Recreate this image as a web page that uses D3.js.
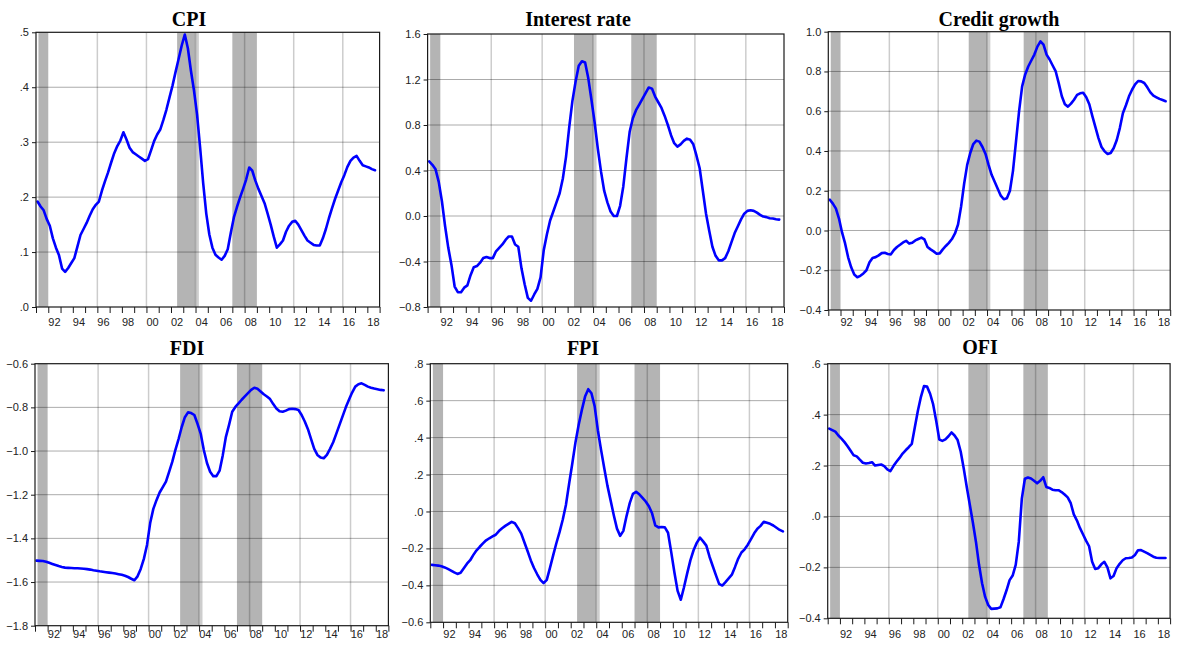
<!DOCTYPE html>
<html>
<head>
<meta charset="utf-8">
<script src="https://cdn.jsdelivr.net/npm/d3@7/dist/d3.min.js"></script>
<style>
  html, body { margin: 0; padding: 0; background: #fff; }
  svg { display: block; }
  .tick-label { font-family: "Liberation Sans", Arial, sans-serif; font-size: 11px; fill: #222; }
  .panel-title { font-family: "Liberation Serif", "Times New Roman", serif; font-weight: bold; font-size: 20px; fill: #000; }
</style>
</head>
<body>
<svg id="chart" width="1178" height="645"></svg>
<script>
// Quarterly observations, 1991Q1 - 2018Q3
const startYear = 1991;
const endYear = 2019;

const cpi = [
  0.192, 0.183, 0.176, 0.160, 0.148, 0.125, 0.108, 0.094, 0.070, 0.064, 0.071, 0.080,
  0.089, 0.110, 0.131, 0.142, 0.153, 0.166, 0.178, 0.186, 0.192, 0.212, 0.229, 0.245,
  0.263, 0.280, 0.293, 0.303, 0.318, 0.305, 0.290, 0.282, 0.278, 0.274, 0.270, 0.266,
  0.269, 0.285, 0.302, 0.314, 0.323, 0.340, 0.359, 0.381, 0.403, 0.428, 0.452, 0.476,
  0.496, 0.471, 0.430, 0.394, 0.350, 0.290, 0.225, 0.170, 0.132, 0.108, 0.095, 0.090,
  0.086, 0.093, 0.105, 0.135, 0.163, 0.182, 0.199, 0.215, 0.232, 0.254, 0.248, 0.230,
  0.215, 0.202, 0.189, 0.170, 0.150, 0.128, 0.108, 0.114, 0.121, 0.137, 0.148, 0.155,
  0.157, 0.150, 0.140, 0.130, 0.121, 0.117, 0.113, 0.112, 0.112, 0.125, 0.142, 0.162,
  0.180, 0.197, 0.212, 0.227, 0.240, 0.255, 0.266, 0.272, 0.275, 0.266, 0.258, 0.256,
  0.254, 0.251, 0.249
];

const interestRate = [
  0.48, 0.45, 0.41, 0.30, 0.13, -0.09, -0.28, -0.43, -0.62, -0.67, -0.67, -0.63,
  -0.61, -0.52, -0.45, -0.44, -0.41, -0.37, -0.36, -0.37, -0.37, -0.31, -0.28, -0.25,
  -0.21, -0.18, -0.18, -0.25, -0.27, -0.46, -0.60, -0.72, -0.745, -0.69, -0.64, -0.54,
  -0.30, -0.16, -0.04, 0.04, 0.12, 0.20, 0.33, 0.52, 0.78, 1.01, 1.18, 1.32,
  1.36, 1.35, 1.21, 1.02, 0.82, 0.59, 0.39, 0.22, 0.12, 0.04, 0.00, 0.00,
  0.09, 0.26, 0.51, 0.74, 0.86, 0.93, 0.98, 1.03, 1.08, 1.13, 1.12, 1.05,
  1.00, 0.95, 0.88, 0.80, 0.71, 0.64, 0.61, 0.63, 0.66, 0.68, 0.67, 0.63,
  0.53, 0.42, 0.22, 0.02, -0.13, -0.27, -0.35, -0.39, -0.39, -0.37, -0.31, -0.23,
  -0.15, -0.09, -0.03, 0.02, 0.045, 0.05, 0.045, 0.03, 0.01, -0.005, -0.01, -0.02,
  -0.022, -0.028, -0.032
];

const creditGrowth = [
  0.155, 0.135, 0.110, 0.060, -0.010, -0.065, -0.135, -0.185, -0.222, -0.235, -0.228, -0.216,
  -0.200, -0.160, -0.138, -0.134, -0.125, -0.114, -0.112, -0.118, -0.120, -0.098, -0.083, -0.072,
  -0.060, -0.052, -0.066, -0.062, -0.050, -0.043, -0.036, -0.045, -0.083, -0.095, -0.105, -0.117,
  -0.115, -0.095, -0.078, -0.062, -0.043, -0.015, 0.030, 0.120, 0.235, 0.330, 0.390, 0.435,
  0.452, 0.447, 0.420, 0.385, 0.330, 0.280, 0.245, 0.210, 0.175, 0.157, 0.162, 0.200,
  0.300, 0.450, 0.600, 0.725, 0.785, 0.825, 0.855, 0.885, 0.925, 0.951, 0.935, 0.885,
  0.860, 0.830, 0.800, 0.740, 0.675, 0.635, 0.623, 0.638, 0.658, 0.682, 0.690, 0.693,
  0.670, 0.635, 0.575, 0.520, 0.465, 0.420, 0.398, 0.385, 0.390, 0.415, 0.455, 0.515,
  0.590, 0.630, 0.675, 0.708, 0.735, 0.752, 0.750, 0.742, 0.720, 0.695, 0.678, 0.670,
  0.662, 0.656, 0.650
];

const fdi = [
  -1.502, -1.503, -1.504, -1.507, -1.512, -1.517, -1.522, -1.527, -1.531, -1.534, -1.535, -1.536,
  -1.537, -1.537, -1.538, -1.539, -1.541, -1.543, -1.546, -1.548, -1.551, -1.553, -1.555, -1.557,
  -1.559, -1.561, -1.564, -1.567, -1.571, -1.577, -1.585, -1.592, -1.574, -1.540, -1.494, -1.430,
  -1.330, -1.265, -1.225, -1.190, -1.165, -1.140, -1.095, -1.050, -0.995, -0.945, -0.890, -0.845,
  -0.823, -0.826, -0.835, -0.875, -0.920, -0.995, -1.055, -1.095, -1.115, -1.115, -1.090, -1.020,
  -0.935, -0.880, -0.820, -0.798, -0.782, -0.765, -0.750, -0.735, -0.720, -0.710, -0.715, -0.727,
  -0.740, -0.750, -0.762, -0.785, -0.805, -0.818, -0.820, -0.815, -0.808, -0.806, -0.808, -0.812,
  -0.835, -0.865, -0.900, -0.945, -0.990, -1.018, -1.030, -1.033, -1.018, -0.990, -0.960, -0.920,
  -0.880, -0.840, -0.800, -0.765, -0.732, -0.705, -0.694, -0.690, -0.697, -0.705, -0.710, -0.714,
  -0.717, -0.720, -0.722
];

const fpi = [
  -0.289, -0.291, -0.293, -0.297, -0.303, -0.311, -0.320, -0.330, -0.338, -0.332, -0.308, -0.283,
  -0.264, -0.235, -0.210, -0.191, -0.173, -0.156, -0.145, -0.135, -0.126, -0.106, -0.091, -0.078,
  -0.067, -0.056, -0.064, -0.090, -0.120, -0.168, -0.215, -0.265, -0.306, -0.340, -0.370, -0.388,
  -0.370, -0.305, -0.238, -0.172, -0.112, -0.045, 0.035, 0.150, 0.260, 0.375, 0.470, 0.550,
  0.622, 0.662, 0.640, 0.570, 0.440, 0.335, 0.235, 0.140, 0.060, -0.020, -0.093, -0.132,
  -0.105, -0.025, 0.045, 0.095, 0.106, 0.093, 0.074, 0.054, 0.028, -0.010, -0.075, -0.086,
  -0.084, -0.086, -0.115, -0.220, -0.330, -0.430, -0.478, -0.410, -0.335, -0.265, -0.210, -0.170,
  -0.142, -0.162, -0.185, -0.245, -0.295, -0.345, -0.392, -0.401, -0.382, -0.362, -0.342, -0.300,
  -0.255, -0.222, -0.205, -0.180, -0.150, -0.118, -0.093, -0.078, -0.056, -0.061, -0.067, -0.076,
  -0.088, -0.100, -0.108
];

const ofi = [
  0.345, 0.339, 0.333, 0.318, 0.306, 0.292, 0.276, 0.258, 0.240, 0.236, 0.223, 0.211,
  0.208, 0.210, 0.213, 0.200, 0.202, 0.204, 0.198, 0.185, 0.178, 0.198, 0.215, 0.230,
  0.247, 0.260, 0.272, 0.285, 0.350, 0.415, 0.470, 0.512, 0.510, 0.482, 0.440, 0.375,
  0.302, 0.297, 0.303, 0.315, 0.330, 0.318, 0.300, 0.255, 0.188, 0.115, 0.045, -0.025,
  -0.100, -0.190, -0.262, -0.316, -0.348, -0.363, -0.362, -0.361, -0.357, -0.325, -0.290, -0.250,
  -0.232, -0.190, -0.100, 0.070, 0.148, 0.153, 0.149, 0.140, 0.130, 0.140, 0.154, 0.116,
  0.112, 0.105, 0.103, 0.103, 0.096, 0.086, 0.075, 0.052, 0.008, -0.015, -0.045, -0.070,
  -0.095, -0.117, -0.178, -0.206, -0.203, -0.188, -0.178, -0.200, -0.243, -0.234, -0.203, -0.186,
  -0.172, -0.164, -0.163, -0.161, -0.151, -0.133, -0.132, -0.138, -0.144, -0.151, -0.158, -0.162,
  -0.163, -0.163, -0.163
];

// Y-axis tick values per panel
const cpiTicks = [0, 0.1, 0.2, 0.3, 0.4, 0.5];
const interestTicks = [-0.8, -0.4, 0.0, 0.4, 0.8, 1.2, 1.6];
const creditTicks = [-0.4, -0.2, 0.0, 0.2, 0.4, 0.6, 0.8, 1.0];
const fdiTicks = [-1.8, -1.6, -1.4, -1.2, -1.0, -0.8, -0.6];
const fpiTicks = [-0.6, -0.4, -0.2, 0.0, 0.2, 0.4, 0.6, 0.8];
const ofiTicks = [-0.4, -0.2, 0.0, 0.2, 0.4, 0.6];

// Year labels on the time axis (centred inside the labelled year)
const labelYears = [1992, 1994, 1996, 1998, 2000, 2002, 2004, 2006, 2008, 2010, 2012, 2014, 2016, 2018];
const yearLabels = ["92", "94", "96", "98", "00", "02", "04", "06", "08", "10", "12", "14", "16", "18"];
const gridYears = [1996, 2000, 2004, 2008, 2012, 2016];

// Shaded episodes [from, to, shade]
const shadedPeriods = [
  [1991.2, 1992.0, "dark"],
  [2002.5, 2004.0, "dark"],
  [2004.0, 2004.27, "light"],
  [2007.0, 2009.0, "dark"]
];

const f1 = d3.format(".1f");
const dotFmt = v => f1(v).replace(/^(-?)0\./, "$1.");

const panels = [
  { title: "CPI", values: cpi, ticks: cpiTicks, fmt: dotFmt,
    left: 36, right: 379.6, top: 32.3, bottom: 307, titleX: 189, titleY: 26, labelY: 326 },
  { title: "Interest rate", values: interestRate, ticks: interestTicks, fmt: f1,
    left: 427.6, right: 784, top: 34, bottom: 307, titleX: 578, titleY: 26, labelY: 326 },
  { title: "Credit growth", values: creditGrowth, ticks: creditTicks, fmt: f1,
    left: 828.3, right: 1170.2, top: 31.7, bottom: 310, titleX: 999, titleY: 26, labelY: 326 },
  { title: "FDI", values: fdi, ticks: fdiTicks, fmt: f1,
    left: 35, right: 388.4, top: 363.7, bottom: 625.7, titleX: 187, titleY: 355, labelY: 638 },
  { title: "FPI", values: fpi, ticks: fpiTicks, fmt: dotFmt,
    left: 430.3, right: 787.7, top: 363.7, bottom: 622.3, titleX: 583, titleY: 355, labelY: 638 },
  { title: "OFI", values: ofi, ticks: ofiTicks, fmt: dotFmt,
    left: 827.7, right: 1170.1, top: 363.7, bottom: 618.3, titleX: 980, titleY: 354, labelY: 638 }
];

const svg = d3.select("#chart");
const years = d3.range(startYear, endYear + 1);

panels.forEach((p, pi) => {
  const x = d3.scaleLinear().domain([startYear, endYear]).range([p.left, p.right]);
  const y = d3.scaleLinear().domain(d3.extent(p.ticks)).range([p.bottom, p.top]);
  const g = svg.append("g");

  const clipId = "clip" + pi;
  g.append("clipPath").attr("id", clipId)
    .append("rect")
    .attr("x", p.left).attr("y", p.top)
    .attr("width", p.right - p.left).attr("height", p.bottom - p.top);

  // shaded episodes
  g.append("g").selectAll("rect").data(shadedPeriods).join("rect")
    .attr("x", d => x(d[0]))
    .attr("width", d => x(d[1]) - x(d[0]))
    .attr("y", p.top)
    .attr("height", p.bottom - p.top)
    .attr("fill", d => d[2] === "dark" ? "#b4b4b4" : "#cdcdcd");

  // vertical grid
  g.append("g").selectAll("line").data(gridYears).join("line")
    .attr("x1", d => x(d)).attr("x2", d => x(d))
    .attr("y1", p.top).attr("y2", p.bottom)
    .attr("stroke", "rgba(0,0,0,0.2)")
    .attr("stroke-width", 1.5);

  // horizontal grid
  g.append("g").selectAll("line").data(p.ticks.slice(1, -1)).join("line")
    .attr("x1", p.left).attr("x2", p.right)
    .attr("y1", d => y(d)).attr("y2", d => y(d))
    .attr("stroke", "rgba(0,0,0,0.33)")
    .attr("stroke-width", 1);

  // series line
  const line = d3.line()
    .x((d, i) => x(startYear + (i + 0.5) / 4))
    .y(d => y(d));
  g.append("path")
    .datum(p.values)
    .attr("clip-path", `url(#${clipId})`)
    .attr("d", line)
    .attr("fill", "none")
    .attr("stroke", "#0000ff")
    .attr("stroke-width", 2.6)
    .attr("stroke-linejoin", "round")
    .attr("stroke-linecap", "round");

  // frame
  g.append("rect")
    .attr("x", p.left).attr("y", p.top)
    .attr("width", p.right - p.left).attr("height", p.bottom - p.top)
    .attr("fill", "none")
    .attr("stroke", "#1a1a1a")
    .attr("stroke-width", 1.2);

  // y axis ticks and labels
  const yAxis = g.append("g").attr("transform", `translate(${p.left},0)`)
    .call(d3.axisLeft(y).tickValues(p.ticks).tickFormat(p.fmt).tickSize(4).tickPadding(3));
  yAxis.select(".domain").remove();
  yAxis.selectAll(".tick line").attr("stroke", "#1a1a1a");
  yAxis.selectAll(".tick text").attr("class", "tick-label").attr("font-family", null).attr("font-size", null);

  // x axis: yearly ticks, labels centred between ticks
  const xAxis = g.append("g").attr("transform", `translate(0,${p.bottom})`)
    .call(d3.axisBottom(x).tickValues(years).tickFormat("").tickSize(6));
  xAxis.select(".domain").remove();
  xAxis.selectAll(".tick line").attr("stroke", "#1a1a1a");

  g.append("g").selectAll("text").data(labelYears).join("text")
    .attr("class", "tick-label")
    .attr("x", d => x(d + 0.5))
    .attr("y", p.labelY)
    .attr("text-anchor", "middle")
    .text((d, i) => yearLabels[i]);

  // title
  g.append("text")
    .attr("class", "panel-title")
    .attr("x", p.titleX)
    .attr("y", p.titleY)
    .attr("text-anchor", "middle")
    .text(p.title);
});
</script>
</body>
</html>
